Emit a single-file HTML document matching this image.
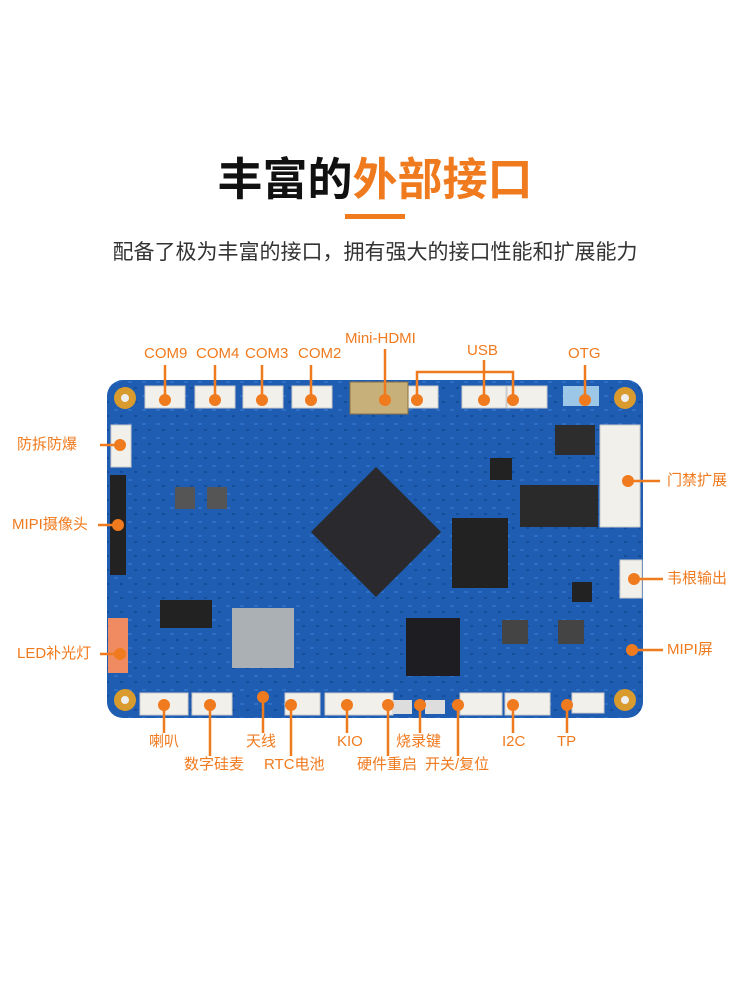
<!DOCTYPE html>
<html><head><meta charset="utf-8"><style>
body{margin:0;background:#fff;}
.w{position:relative;width:750px;height:1000px;overflow:hidden;font-family:"Liberation Sans","Noto Sans CJK SC",sans-serif;}
.t{position:absolute;white-space:nowrap;color:#f07a1e;font-size:15px;line-height:16px;}
</style></head><body><div class="w">
<div style="position:absolute;top:152px;left:0;width:750px;text-align:center;font-size:45px;font-weight:bold;line-height:56px;color:#111;">丰富的<span style="color:#f07a1e">外部接口</span></div>
<div style="position:absolute;left:345px;top:214px;width:60px;height:5px;background:#f07a1e"></div>
<div style="position:absolute;top:239px;left:0;width:750px;text-align:center;font-size:21px;color:#333;line-height:28px;">配备了极为丰富的接口，拥有强大的接口性能和扩展能力</div>
<svg width="750" height="1000" style="position:absolute;left:0;top:0">
<defs><pattern id="p" width="14" height="14" patternUnits="userSpaceOnUse"><rect width="14" height="14" fill="#1f5db2"/><rect x="2" y="3" width="4" height="2" fill="#2c6fc4"/><rect x="8" y="9" width="3" height="2" fill="#164d98"/></pattern></defs>
<rect x="107" y="380" width="536" height="338" rx="16" fill="url(#p)"/>
<g fill="#d99a2e"><circle cx="125" cy="398" r="11"/><circle cx="625" cy="398" r="11"/><circle cx="125" cy="700" r="11"/><circle cx="625" cy="700" r="11"/></g>
<g fill="#eee"><circle cx="125" cy="398" r="4"/><circle cx="625" cy="398" r="4"/><circle cx="125" cy="700" r="4"/><circle cx="625" cy="700" r="4"/></g>
<g fill="#f2f0ea" stroke="#ccc">
<rect x="145" y="386" width="40" height="22"/><rect x="195" y="386" width="40" height="22"/><rect x="243" y="386" width="40" height="22"/><rect x="292" y="386" width="40" height="22"/>
<rect x="398" y="386" width="40" height="22"/><rect x="462" y="386" width="44" height="22"/><rect x="507" y="386" width="40" height="22"/>
<rect x="111" y="425" width="20" height="42"/><rect x="600" y="425" width="40" height="102"/><rect x="620" y="560" width="22" height="38"/>
<rect x="140" y="693" width="48" height="22"/><rect x="192" y="693" width="40" height="22"/><rect x="285" y="693" width="35" height="22"/><rect x="325" y="693" width="68" height="22"/>
<rect x="460" y="693" width="42" height="22"/><rect x="505" y="693" width="45" height="22"/><rect x="572" y="693" width="32" height="20"/>
</g>
<rect x="563" y="386" width="36" height="20" fill="#9cc7e6"/>
<rect x="350" y="382" width="58" height="32" fill="#c8b07a" stroke="#8a7040"/>
<rect x="110" y="475" width="16" height="100" fill="#222"/>
<rect x="108" y="618" width="20" height="55" fill="#f08a60"/>
<rect x="392" y="700" width="20" height="14" fill="#ddd"/><rect x="425" y="700" width="20" height="14" fill="#ddd"/>
<g transform="rotate(-45 376 532)"><rect x="330" y="486" width="92" height="92" fill="#2a2a2e"/></g>
<rect x="452" y="518" width="56" height="70" fill="#222"/>
<rect x="406" y="618" width="54" height="58" fill="#1e1e22"/>
<rect x="232" y="608" width="62" height="60" fill="#aab0b4"/>
<rect x="160" y="600" width="52" height="28" fill="#222"/>
<rect x="520" y="485" width="78" height="42" fill="#2a2a2a"/>
<rect x="555" y="425" width="40" height="30" fill="#2d2d2d"/>
<rect x="502" y="620" width="26" height="24" fill="#444"/><rect x="558" y="620" width="26" height="24" fill="#444"/>
<rect x="175" y="487" width="20" height="22" fill="#555"/><rect x="207" y="487" width="20" height="22" fill="#555"/>
<rect x="490" y="458" width="22" height="22" fill="#222"/><rect x="572" y="582" width="20" height="20" fill="#222"/>
<g stroke="#f07a1e" stroke-width="2.5" fill="none">
<path d="M165 365V400M215 365V400M262 365V400M311 365V400M385 349V400M484 360V400M417 400V372H513V400M585 365V400"/>
<path d="M100 445H120M98 525H118M100 654H120M628 481H660M634 579H663M632 650H663"/>
<path d="M164 705V733M210 705V756M263 697V733M291 705V756M347 705V733M388 705V756M420 705V733M458 705V756M513 705V733M567 705V733"/>
</g>
<g fill="#f07a1e">
<circle cx="165" cy="400" r="6"/><circle cx="215" cy="400" r="6"/><circle cx="262" cy="400" r="6"/><circle cx="311" cy="400" r="6"/><circle cx="385" cy="400" r="6"/><circle cx="417" cy="400" r="6"/><circle cx="484" cy="400" r="6"/><circle cx="513" cy="400" r="6"/><circle cx="585" cy="400" r="6"/>
<circle cx="120" cy="445" r="6"/><circle cx="118" cy="525" r="6"/><circle cx="120" cy="654" r="6"/><circle cx="628" cy="481" r="6"/><circle cx="634" cy="579" r="6"/><circle cx="632" cy="650" r="6"/>
<circle cx="164" cy="705" r="6"/><circle cx="210" cy="705" r="6"/><circle cx="263" cy="697" r="6"/><circle cx="291" cy="705" r="6"/><circle cx="347" cy="705" r="6"/><circle cx="388" cy="705" r="6"/><circle cx="420" cy="705" r="6"/><circle cx="458" cy="705" r="6"/><circle cx="513" cy="705" r="6"/><circle cx="567" cy="705" r="6"/>
</g>
</svg>
<div class="t" style="left:144px;top:346px">COM9</div><div class="t" style="left:196px;top:346px">COM4</div><div class="t" style="left:245px;top:346px">COM3</div><div class="t" style="left:298px;top:346px">COM2</div>
<div class="t" style="left:345px;top:331px">Mini-HDMI</div><div class="t" style="left:467px;top:343px">USB</div><div class="t" style="left:568px;top:346px">OTG</div>
<div class="t" style="left:17px;top:437px">防拆防爆</div><div class="t" style="left:12px;top:517px">MIPI摄像头</div><div class="t" style="left:17px;top:646px">LED补光灯</div>
<div class="t" style="left:667px;top:473px">门禁扩展</div><div class="t" style="left:667px;top:571px">韦根输出</div><div class="t" style="left:667px;top:642px">MIPI屏</div>
<div class="t" style="left:149px;top:734px">喇叭</div><div class="t" style="left:184px;top:757px">数字硅麦</div><div class="t" style="left:246px;top:734px">天线</div><div class="t" style="left:264px;top:757px">RTC电池</div>
<div class="t" style="left:337px;top:734px">KIO</div><div class="t" style="left:357px;top:757px">硬件重启</div><div class="t" style="left:396px;top:734px">烧录键</div><div class="t" style="left:425px;top:757px">开关/复位</div>
<div class="t" style="left:502px;top:734px">I2C</div><div class="t" style="left:557px;top:734px">TP</div>
</div></body></html>
